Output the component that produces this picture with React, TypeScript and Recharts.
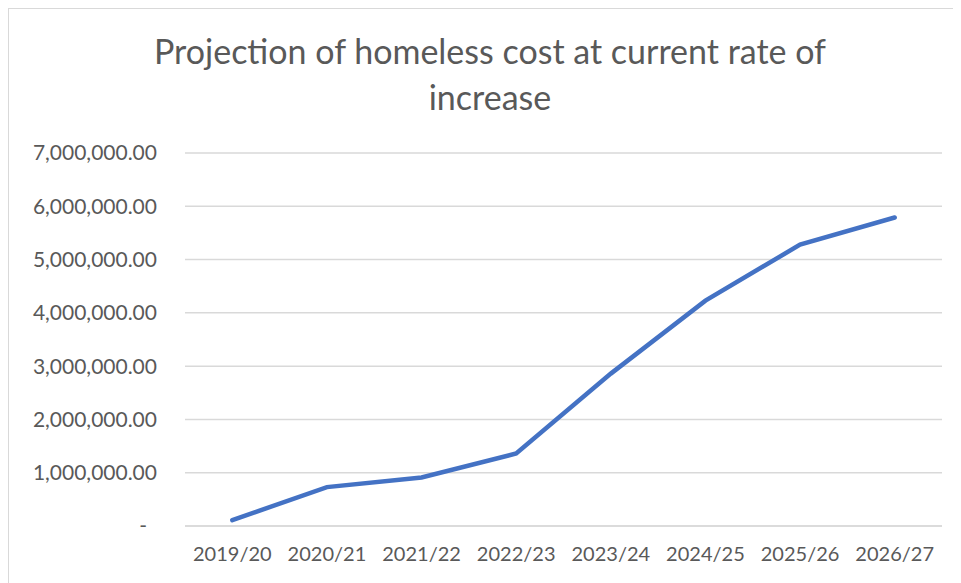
import React from 'react';
import { LineChart, Line, XAxis, YAxis, CartesianGrid } from 'recharts';

const years = ['2019/20', '2020/21', '2021/22', '2022/23', '2023/24', '2024/25', '2025/26', '2026/27'];
const cost = [110000, 730000, 910000, 1360000, 2860000, 4230000, 5280000, 5790000];
const yTicks = [0, 1000000, 2000000, 3000000, 4000000, 5000000, 6000000, 7000000];

const data = years.map((year, i) => ({ year, cost: cost[i] }));

const fmt = (v: number) =>
  v.toLocaleString('en-US', { minimumFractionDigits: 2, maximumFractionDigits: 2 });

const YTick = (props: any) => {
  const { x, y, payload } = props;
  const zero = payload.value === 0;
  return (
    <text x={zero ? x - 10 : x} y={y} dy="0.355em" textAnchor="end" fill="#595959" fontSize={21} fontFamily="Lato">
      {zero ? '-' : fmt(payload.value)}
    </text>
  );
};

const App: React.FC = () => {
  return (
    <div
      style={{
        position: 'relative',
        width: 952,
        height: 574,
        borderTop: '1px solid #d9d9d9',
        borderLeft: '1px solid #d9d9d9',
        background: '#fff',
        fontFamily: 'Lato',
      }}
    >
      {/* titolo su due righe come in Excel */}
      <div
        style={{
          position: 'absolute',
          top: 19,
          left: 0,
          width: 962,
          textAlign: 'center',
          fontSize: 34,
          lineHeight: '46px',
          color: '#595959',
        }}
      >
        Projection of homeless cost at current rate of
        <br />
        increase
      </div>
      <LineChart width={952} height={574} data={data} margin={{ top: 144, right: 19, bottom: 27, left: 0 }}>
        <CartesianGrid vertical={false} stroke="#d9d9d9" strokeWidth={1.5} />
        <XAxis
          dataKey="year"
          scale="band"
          height={30}
          axisLine={{ stroke: '#d9d9d9', strokeWidth: 1.5 }}
          tickLine={false}
          tickSize={0}
          tickMargin={21}
          tick={{ fill: '#595959', fontSize: 20, fontFamily: 'Lato' }}
          interval={0}
        />
        <YAxis
          width={176}
          domain={[0, 7000000]}
          ticks={yTicks}
          axisLine={false}
          tickLine={false}
          tickSize={0}
          tickMargin={28}
          tick={<YTick />}
          interval={0}
        />
        <Line
          type="linear"
          dataKey="cost"
          stroke="#4472C4"
          strokeWidth={4.5}
          strokeLinecap="round"
          dot={false}
          activeDot={false}
          isAnimationActive={false}
        />
      </LineChart>
    </div>
  );
};

export default App;
